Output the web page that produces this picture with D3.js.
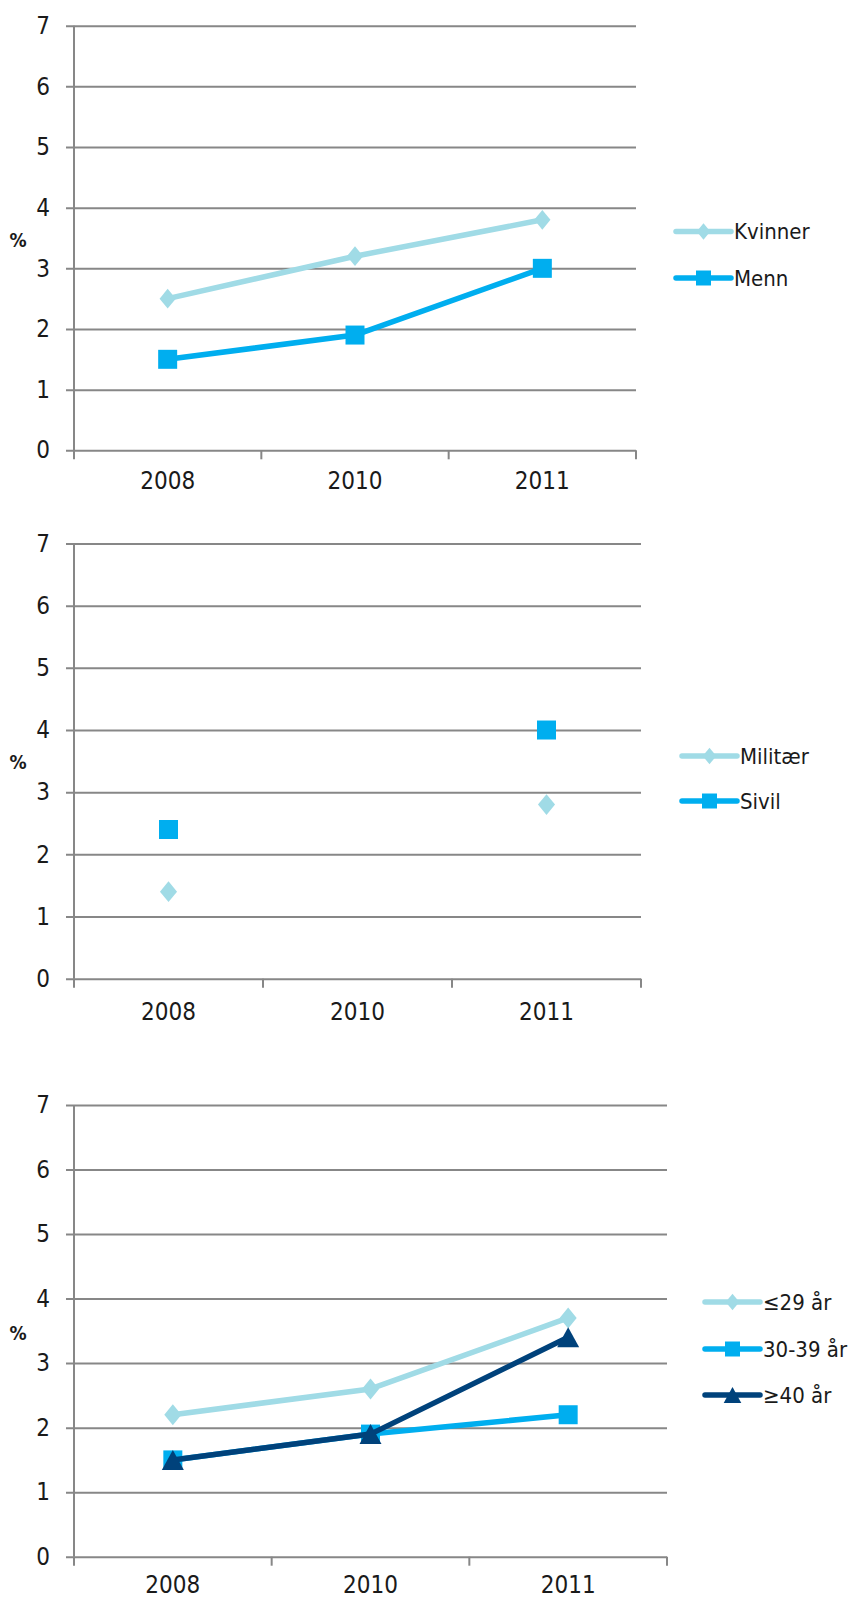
<!DOCTYPE html>
<html><head><meta charset="utf-8">
<script src="https://cdn.jsdelivr.net/npm/d3@7"></script>
<style>
html,body{margin:0;padding:0;background:#fff;}
text{font-family:"DejaVu Sans Condensed","DejaVu Sans",sans-serif;fill:#1a1a1a;}
</style></head>
<body>
<script>
const years = ["2008","2010","2011"];
const yTicks = [0,1,2,3,4,5,6,7];

const kjonnNames = ["Kvinner","Menn"];
const kvinner = [2.5, 3.2, 3.8];
const menn = [1.5, 1.9, 3.0];

const typeNames = ["Militær","Sivil"];
const militaer = [1.4, null, 2.8];
const sivil = [2.4, null, 4.0];

const alderNames = ["≤29 år","30-39 år","≥40 år"];
const alder29 = [2.2, 2.6, 3.7];
const alder30 = [1.5, 1.9, 2.2];
const alder40 = [1.5, 1.9, 3.4];

const LIGHT="#a0dbe6", MID="#00aeef", DARK="#00427b", GRID="#878787";
const FS = 24, LFS = 22;

const svg = d3.select("body").append("svg").attr("width",852).attr("height",1601);

function symPath(shape, cx, cy, s){
  if(shape==="diamond"){ const w=s*0.45, h=s*0.55; return `M${cx},${cy-h}L${cx+w},${cy}L${cx},${cy+h}L${cx-w},${cy}Z`; }
  if(shape==="square"){ const h=s/2; return `M${cx-h},${cy-h}h${s}v${s}h${-s}Z`; }
  if(shape==="triangle"){ const w=s*0.55, h=s*0.5; return `M${cx},${cy-h}L${cx+w},${cy+h}L${cx-w},${cy+h}Z`; }
}

function chart(cfg){
  const g = svg.append("g");
  const x = d3.scaleBand().domain(years).range([cfg.x0,cfg.x1]).paddingInner(0).paddingOuter(0);
  const y = d3.scaleLinear().domain([0,7]).range([cfg.y0,cfg.y7]);
  const W = cfg.x1-cfg.x0;
  const ya = g.append("g").attr("transform",`translate(${cfg.x0},0)`)
    .call(d3.axisLeft(y).tickValues(yTicks).tickFormat(d3.format("d")).tickSizeInner(-W).tickSizeOuter(0).tickPadding(24));
  ya.select(".domain").remove();
  ya.selectAll(".tick line").attr("x1",-8).attr("x2",W).attr("stroke",GRID).attr("stroke-width",2);
  ya.selectAll(".tick text").attr("font-size",FS).attr("fill","#1a1a1a").attr("font-family",null);
  g.append("line").attr("x1",cfg.x0).attr("x2",cfg.x0).attr("y1",y(7)).attr("y2",y(0)).attr("stroke",GRID).attr("stroke-width",2);
  const xa = g.append("g").attr("transform",`translate(0,${cfg.y0})`)
    .call(d3.axisBottom(x).tickSize(0).tickPadding(cfg.xPad));
  xa.select(".domain").remove();
  xa.selectAll(".tick text").attr("font-size",FS).attr("fill","#1a1a1a").attr("font-family",null);
  const edges = years.map(d=>x(d)).concat([cfg.x1]);
  g.selectAll(".xt").data(edges).join("line").attr("class","xt")
    .attr("x1",d=>d).attr("x2",d=>d).attr("y1",cfg.y0).attr("y2",cfg.y0+9)
    .attr("stroke",GRID).attr("stroke-width",2);
  g.append("text").attr("x",18).attr("y",cfg.pctY).attr("text-anchor","middle").attr("dominant-baseline","central")
    .attr("font-size",19).attr("font-weight","bold").text("%");
  const cx = d=>x(d)+x.bandwidth()/2;
  cfg.series.forEach(s=>{
    const pts = years.map((yr,i)=>({yr,v:s.values[i]}));
    const line = d3.line().defined(d=>d.v!=null).x(d=>cx(d.yr)).y(d=>y(d.v));
    g.append("path").attr("d",line(pts)).attr("fill","none").attr("stroke",s.color).attr("stroke-width",5.5).attr("stroke-linejoin","round");
    g.selectAll(null).data(pts.filter(d=>d.v!=null)).join("path")
      .attr("d",d=>symPath(s.shape,cx(d.yr),y(d.v),s.size)).attr("fill",s.color);
  });
  cfg.series.forEach((s,i)=>{
    const ly = cfg.legY[i];
    g.append("line").attr("x1",cfg.legX).attr("x2",cfg.legX+55).attr("y1",ly).attr("y2",ly)
      .attr("stroke",s.color).attr("stroke-width",5.5).attr("stroke-linecap","round");
    g.append("path").attr("d",symPath(s.shape,cfg.legX+27.5,ly,s.shape==="triangle"?16:15)).attr("fill",s.color);
    g.append("text").attr("x",cfg.legX+58).attr("y",ly).attr("dominant-baseline","central").attr("font-size",LFS).text(s.name);
  });
}

chart({x0:74,x1:636,y0:450.3,y7:25.7,xPad:22,pctY:240,legX:676,legY:[231.5,278],
  series:[
    {name:kjonnNames[0],values:kvinner,color:LIGHT,shape:"diamond",size:18},
    {name:kjonnNames[1],values:menn,color:MID,shape:"square",size:19}
  ]});
chart({x0:74,x1:641,y0:978.7,y7:543.5,xPad:24,pctY:762,legX:682,legY:[756,801],
  series:[
    {name:typeNames[0],values:militaer,color:LIGHT,shape:"diamond",size:19},
    {name:typeNames[1],values:sivil,color:MID,shape:"square",size:19}
  ]});
chart({x0:74,x1:667,y0:1556.7,y7:1105,xPad:19,pctY:1333,legX:705,legY:[1302,1349,1395],
  series:[
    {name:alderNames[0],values:alder29,color:LIGHT,shape:"diamond",size:19},
    {name:alderNames[1],values:alder30,color:MID,shape:"square",size:19},
    {name:alderNames[2],values:alder40,color:DARK,shape:"triangle",size:20}
  ]});
</script>
</body></html>
